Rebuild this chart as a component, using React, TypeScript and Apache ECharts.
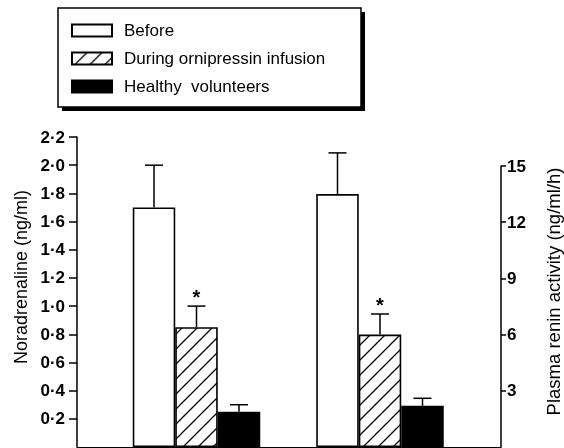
import React, { useEffect, useRef } from "react";
import * as echarts from "echarts";

// ---- data ----
const seriesNames = ["Before", "During ornipressin infusion", "Healthy  volunteers"];
const groupNames = ["Noradrenaline (ng/ml)", "Plasma renin activity (ng/ml/h)"];
const noradrenaline = [1.7, 0.85, 0.25];
const noradrenalineErr = [0.3, 0.15, 0.05];
const renin = [13.5, 6.0, 2.2];
const reninErr = [2.2, 1.1, 0.4];
const significant = [0, 1, 0];
const leftAxis = { min: 0, max: 2.2, interval: 0.2 };
const rightAxis = { min: 0, max: 15, interval: 3 };

const BAR_W = 42.5;
const CAP = 18;
const FONT = "Liberation Sans, Arial, Helvetica, sans-serif";

function makeHatch() {
  const s = 15;
  const c = document.createElement("canvas");
  c.width = s;
  c.height = s;
  const ctx = c.getContext("2d")!;
  ctx.fillStyle = "#fff";
  ctx.fillRect(0, 0, s, s);
  ctx.strokeStyle = "#000";
  ctx.lineWidth = 1.3;
  ctx.beginPath();
  ctx.moveTo(-2, s + 2);
  ctx.lineTo(s + 2, -2);
  ctx.moveTo(-2, 2);
  ctx.lineTo(2, -2);
  ctx.moveTo(s - 2, s + 2);
  ctx.lineTo(s + 2, s - 2);
  ctx.stroke();
  return c;
}

export default function App() {
  const ref = useRef<HTMLDivElement>(null);
  useEffect(() => {
    if (!ref.current) return;
    const chart = echarts.init(ref.current, undefined, { renderer: "svg" });
    const hatch = makeHatch();
    const fills: any[] = ["#fff", { image: hatch, repeat: "repeat" }, "#000"];
    const groups = [
      { values: noradrenaline, errs: noradrenalineErr },
      { values: renin, errs: reninErr },
    ];
    const series: any[] = [];
    groups.forEach((g, gi) => {
      seriesNames.forEach((name, k) => {
        series.push({
          type: "bar",
          name,
          xAxisIndex: gi,
          yAxisIndex: gi,
          data: [g.values[k]],
          barWidth: BAR_W,
          barGap: "0%",
          itemStyle: { color: fills[k], borderColor: "#000", borderWidth: 1.6 },
          z: 2,
        });
      });
      series.push({
        type: "custom",
        name: "err" + gi,
        xAxisIndex: gi,
        yAxisIndex: gi,
        encode: { x: 0, y: 1 },
        z: 3,
        data: g.values.map((v, k) => [0, v, g.errs[k], k, significant[k]]),
        renderItem: (params: any, api: any) => {
          const cat = api.value(0);
          const v = api.value(1);
          const e = api.value(2);
          const k = api.value(3);
          const sig = api.value(4);
          const base = api.coord([cat, v]);
          const top = api.coord([cat, v + e]);
          const x = base[0] + (k - 1) * BAR_W;
          const children: any[] = [
            {
              type: "line",
              shape: { x1: x, y1: base[1], x2: x, y2: top[1] },
              style: { stroke: "#000", lineWidth: 1.5 },
            },
            {
              type: "line",
              shape: { x1: x - CAP / 2, y1: top[1], x2: x + CAP / 2, y2: top[1] },
              style: { stroke: "#000", lineWidth: 1.5 },
            },
          ];
          if (sig) {
            children.push({
              type: "text",
              style: {
                text: "*",
                x,
                y: top[1] - 9,
                align: "center",
                verticalAlign: "middle",
                font: "bold 20px " + FONT,
                fill: "#000",
              },
            });
          }
          return { type: "group", children };
        },
      });
    });

    const axisCommon = {
      axisLine: { show: true, lineStyle: { color: "#000", width: 1.5 } },
      splitLine: { show: false },
      nameLocation: "middle",
      nameRotate: 90,
    };

    chart.setOption({
      animation: false,
      textStyle: { fontFamily: FONT },
      grid: [
        { left: 77, top: 137, width: 239, bottom: 1, outerBoundsMode: "none" },
        { left: 259, top: 166, width: 242, bottom: 1, outerBoundsMode: "none" },
      ],
      xAxis: [0, 1].map((gi) => ({
        type: "category",
        gridIndex: gi,
        data: [groupNames[gi]],
        axisLabel: { show: false },
        axisTick: { show: false },
        axisLine: { show: true, lineStyle: { color: "#000", width: 1 } },
      })),
      yAxis: [
        {
          type: "value",
          gridIndex: 0,
          position: "left",
          min: leftAxis.min,
          max: leftAxis.max,
          interval: leftAxis.interval,
          name: groupNames[0],
          nameGap: 47,
          nameTextStyle: { fontSize: 18, color: "#000", padding: [0, 0, 0, 30] },
          axisTick: { show: true, length: 8, lineStyle: { color: "#000", width: 1.5 } },
          axisLabel: {
            showMinLabel: false,
            margin: 12,
            color: "#000",
            fontSize: 17,
            fontWeight: "bold",
            formatter: (v: number) => v.toFixed(1).replace(".", "·"),
          },
          ...axisCommon,
        },
        {
          type: "value",
          gridIndex: 1,
          position: "right",
          min: rightAxis.min,
          max: rightAxis.max,
          interval: rightAxis.interval,
          name: groupNames[1],
          nameGap: 43,
          nameTextStyle: { fontSize: 18.5, color: "#000", padding: [0, 0, 0, 30] },
          axisTick: { show: true, length: 5, lineStyle: { color: "#000", width: 1.5 } },
          axisLabel: {
            showMinLabel: false,
            margin: 6,
            color: "#000",
            fontSize: 17,
            fontWeight: "bold",
          },
          ...axisCommon,
        },
      ],
      legend: {
        data: seriesNames,
        orient: "vertical",
        left: 66,
        top: 17,
        icon: "rect",
        itemWidth: 40,
        itemHeight: 12,
        itemGap: 11,
        selectedMode: false,
        z: 10,
        textStyle: { fontSize: 17, color: "#000", padding: [0, 0, 0, 7] },
      },
      graphic: [
        {
          type: "rect",
          z: 0,
          shape: { x: 62, y: 12, width: 303, height: 99 },
          style: { fill: "#000" },
        },
        {
          type: "rect",
          z: 1,
          shape: { x: 58, y: 8, width: 303, height: 99 },
          style: { fill: "#fff", stroke: "#000", lineWidth: 1.5 },
        },
      ],
      series,
    });
    return () => chart.dispose();
  }, []);
  return (
    <div
      ref={ref}
      style={{ position: "fixed", left: 0, top: 0, width: 564, height: 448 }}
    />
  );
}
